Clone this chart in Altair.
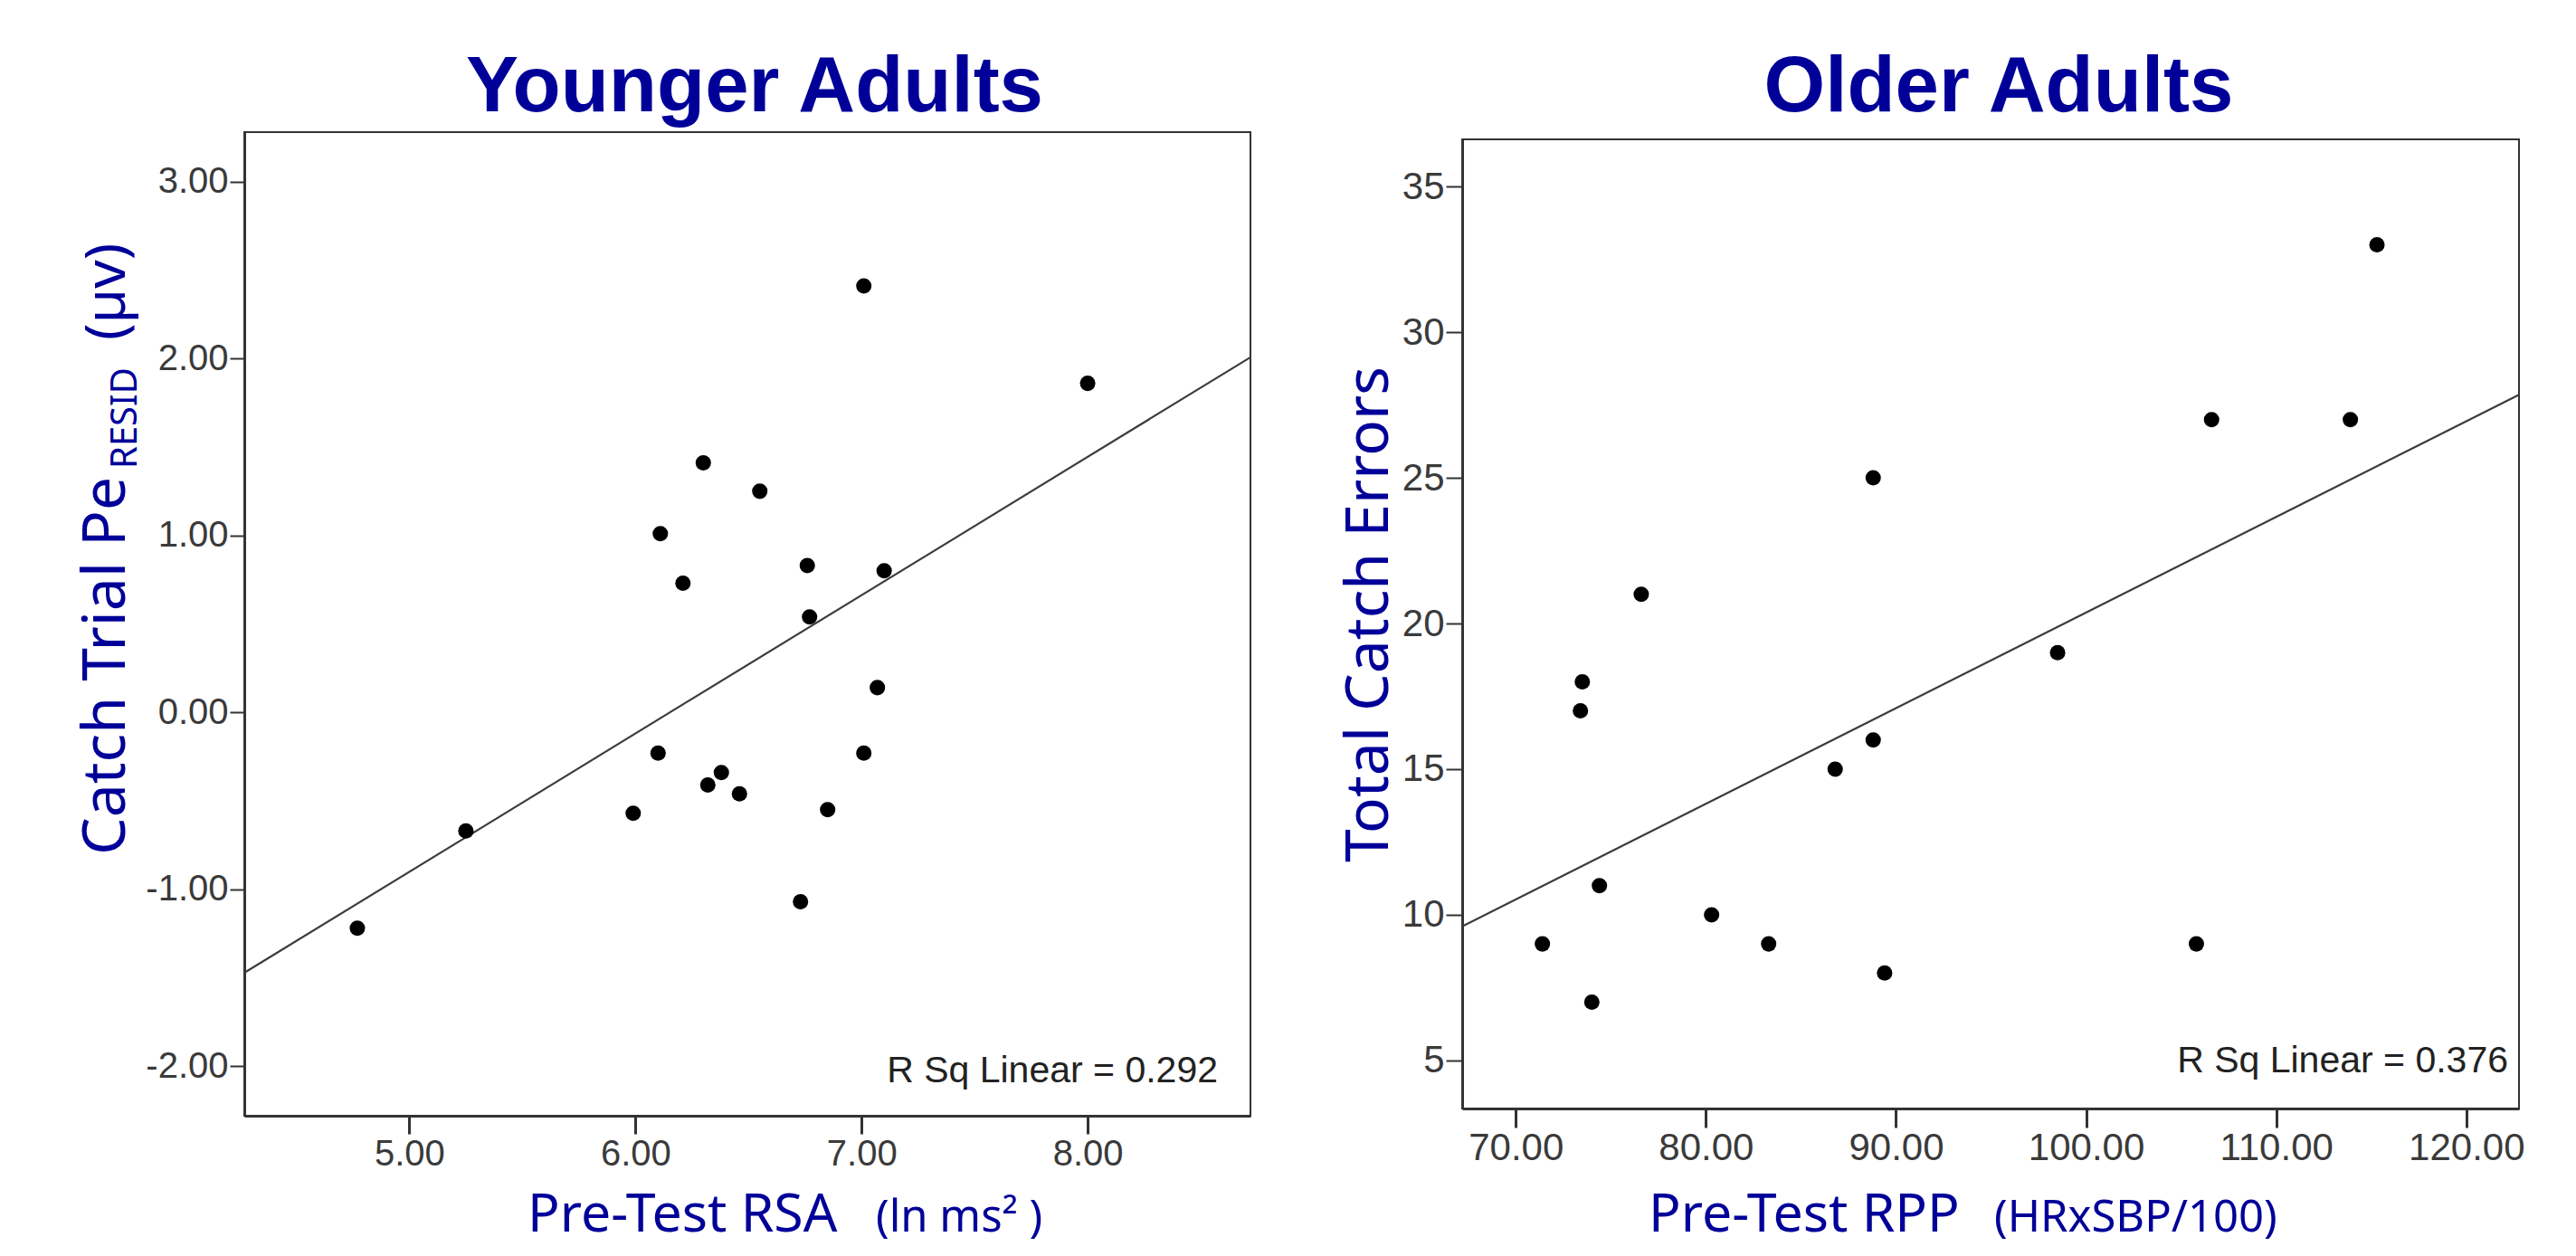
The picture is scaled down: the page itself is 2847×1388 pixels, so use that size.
import altair as alt
import pandas as pd

# ---------------- data ----------------
young_rsa = [7.01, 8.00, 6.30, 6.55, 6.11, 6.76, 6.21, 7.10, 6.77, 7.07,
             6.10, 7.01, 6.38, 6.32, 6.46, 5.99, 6.85, 5.25, 6.73, 4.77]
young_pe = [2.41, 1.86, 1.41, 1.25, 1.01, 0.83, 0.73, 0.80, 0.54, 0.14,
            -0.23, -0.23, -0.34, -0.41, -0.46, -0.57, -0.55, -0.67, -1.07, -1.22]

old_rpp = [115.3, 106.6, 113.9, 88.8, 76.6, 98.5, 73.5, 73.4, 88.8, 86.8,
           74.4, 80.3, 71.4, 83.3, 105.8, 89.4, 74.0]
old_err = [33, 27, 27, 25, 21, 19, 18, 17, 16, 15, 11, 10, 9, 9, 9, 8, 7]

young_x_domain = [4.27, 8.72]
young_y_domain = [-2.28, 3.28]
young_x_ticks = [5, 6, 7, 8]
young_y_ticks = [-2, -1, 0, 1, 2, 3]

old_x_domain = [67.18, 122.77]
old_y_domain = [3.35, 36.62]
old_x_ticks = [70, 80, 90, 100, 110, 120]
old_y_ticks = [5, 10, 15, 20, 25, 30, 35]

young_title = "Younger Adults"
old_title = "Older Adults"
young_rsq = "R Sq Linear = 0.292"
old_rsq = "R Sq Linear = 0.376"

# ---------------- styling ----------------
BLUE = "#000099"
INK = "#333333"
LABEL_FONT = "Liberation Sans, Arial, sans-serif"
TITLE_FONT = "Liberation Sans, Arial, sans-serif"
AX_FONT = "Noto Sans, sans-serif"


def txt(text, x, y, size, font, color, angle=0, align="left",
        baseline="alphabetic", weight="normal"):
    return alt.Chart(pd.DataFrame({"t": [text]})).mark_text(
        align=align, baseline=baseline, angle=angle, font=font,
        fontSize=size, fontWeight=weight, color=color
    ).encode(text="t:N", x=alt.value(x), y=alt.value(y))


def fmt_expr(f):
    return "replace(format(datum.value, '" + f + "'), '\u2212', '-')"


def panel(xvals, yvals, xdom, ydom, xticks, yticks, xfmt, yfmt,
          w, h, label_size, ytick_size, xtick_size, extra_layers):
    df = pd.DataFrame({"x": xvals, "y": yvals})
    xs = alt.Scale(domain=xdom, nice=False, zero=False)
    ys = alt.Scale(domain=ydom, nice=False, zero=False)
    xax = alt.Axis(values=xticks, labelExpr=fmt_expr(xfmt), title=None, grid=False,
                   tickSize=xtick_size, tickWidth=3, tickColor=INK,
                   domainWidth=3, domainColor=INK,
                   labelFont=LABEL_FONT, labelFontSize=label_size,
                   labelColor="#3a3a3a", labelPadding=2)
    yax = alt.Axis(values=yticks, labelExpr=fmt_expr(yfmt), title=None, grid=False,
                   tickSize=ytick_size, tickWidth=2, tickColor=INK,
                   domainWidth=3, domainColor=INK,
                   labelFont=LABEL_FONT, labelFontSize=label_size,
                   labelColor="#3a3a3a", labelPadding=2)
    base = alt.Chart(df)
    pts = base.mark_circle(size=290, color="black", opacity=1).encode(
        x=alt.X("x:Q", scale=xs, axis=xax),
        y=alt.Y("y:Q", scale=ys, axis=yax),
    )
    fit = base.transform_regression("x", "y", extent=xdom).mark_line(
        color="#3c3c3c", strokeWidth=2.2
    ).encode(
        x=alt.X("x:Q", scale=xs, axis=xax),
        y=alt.Y("y:Q", scale=ys, axis=yax),
    )
    return alt.layer(fit, pts, *extra_layers).properties(width=w, height=h)


# ---------- left panel (plot area 1112 x 1087) ----------
LW, LH = 1112, 1087
anchor = alt.Chart(pd.DataFrame({"a": [0]})).mark_rule(
    strokeOpacity=0, strokeWidth=1
).encode(x=alt.value(-261), x2=alt.value(-261),
         y=alt.value(-137), y2=alt.value(-137))

left_extra = [
    anchor,
    txt(young_title, 564, -23, 87, TITLE_FONT, BLUE, align="center", weight="bold"),
    txt("Catch Trial Pe", -132, 799, 66, AX_FONT, BLUE, angle=270),
    txt("RESID", -119, 372, 40, AX_FONT, BLUE, angle=270),
    txt("(\u00b5v)", -132, 230, 62, AX_FONT, BLUE, angle=270),
    txt("Pre-Test RSA", 313, 1215, 59, AX_FONT, BLUE),
    txt("(ln ms\u00b2 )", 698, 1215, 49, AX_FONT, BLUE),
    txt(young_rsq, LW - 36, LH - 37, 41, LABEL_FONT, "#222222", align="right"),
]
left = panel(young_rsa, young_pe, young_x_domain, young_y_domain,
             young_x_ticks, young_y_ticks, ".2f", ".2f",
             LW, LH, 40, 16, 20, left_extra)

# ---------- right panel (plot area 1168 x 1071) ----------
RW, RH = 1168, 1071
right_extra = [
    txt(old_title, 593, -31, 87, TITLE_FONT, BLUE, align="center", weight="bold"),
    txt("Total Catch Errors", -82, 525, 66, AX_FONT, BLUE, angle=270, align="center"),
    txt("Pre-Test RPP", 206, 1207, 59, AX_FONT, BLUE),
    txt("(HRxSBP/100)", 588, 1207, 49, AX_FONT, BLUE),
    txt(old_rsq, RW - 12, RH - 40, 41, LABEL_FONT, "#222222", align="right"),
]
right = panel(old_rpp, old_err, old_x_domain, old_y_domain,
              old_x_ticks, old_y_ticks, ".2f", "d",
              RW, RH, 42, 18, 21, right_extra)

chart = alt.hconcat(left, right, spacing=234, bounds="flush", center=True).properties(
    padding={"left": 0, "top": 0, "right": 0, "bottom": 8}, background="white"
).configure_view(stroke=INK, strokeWidth=2)

chart.save("out.html", embed_options={"renderer": "svg", "actions": False})
